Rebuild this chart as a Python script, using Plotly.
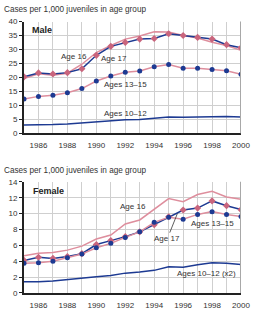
import plotly.graph_objects as go

years = list(range(1985, 2001))
tick_labels = ["" if y % 2 else str(y) for y in years]

# Male (cases per 1,000)
male_age16 = [19.6, 21.3, 20.8, 21.5, 24.7, 28.9, 31.4, 33.7, 34.8, 36.3, 36.2, 35.0, 34.1, 32.6, 31.4, 29.7]
male_age17 = [20.2, 21.6, 21.2, 21.7, 23.1, 27.9, 31.1, 32.5, 33.7, 33.9, 35.6, 35.0, 34.3, 33.7, 31.7, 30.6]
male_13_15 = [12.3, 13.2, 13.6, 14.5, 16.0, 18.7, 20.5, 21.8, 22.3, 23.8, 24.6, 23.3, 23.3, 22.8, 22.4, 21.1]
male_10_12 = [3.0, 3.0, 3.1, 3.3, 3.7, 4.1, 4.5, 4.8, 4.9, 5.3, 5.8, 5.7, 5.8, 5.9, 6.0, 5.8]

# Female (cases per 1,000)
female_age16 = [4.7, 5.0, 5.1, 5.4, 5.9, 6.8, 7.3, 8.7, 9.2, 10.6, 11.9, 11.5, 12.4, 12.8, 12.1, 11.8]
female_age17 = [4.1, 4.5, 4.35, 4.6, 4.95, 6.1, 6.6, 7.1, 7.7, 8.6, 9.6, 10.45, 10.7, 11.6, 11.0, 10.5]
female_13_15 = [3.75, 3.8, 4.0, 4.45, 4.9, 5.7, 6.25, 7.0, 7.7, 8.9, 9.55, 9.3, 9.9, 10.25, 9.9, 9.65]
female_10_12x2 = [1.4, 1.4, 1.5, 1.7, 1.9, 2.05, 2.2, 2.5, 2.65, 2.85, 3.3, 3.25, 3.55, 3.8, 3.75, 3.6]

BLUE = "#1d3a92"
PINK_LINE = "#de8e9d"
PINK_MK = "#c9657d"
GRID = "#cfcfcf"
FONT = "Liberation Sans, Arial, sans-serif"

fig = go.Figure()

def add_panel(xa, ya, a16, a17, a1315, a1012):
    fig.add_trace(go.Scatter(x=years, y=a16, mode="lines", line=dict(color=PINK_LINE, width=1.5),
                             xaxis=xa, yaxis=ya, showlegend=False))
    fig.add_trace(go.Scatter(x=years, y=a17, mode="lines+markers", line=dict(color=BLUE, width=1.5),
                             marker=dict(symbol="diamond", size=5.5, color=PINK_MK),
                             xaxis=xa, yaxis=ya, showlegend=False))
    fig.add_trace(go.Scatter(x=years, y=a1315, mode="lines+markers", line=dict(color=PINK_LINE, width=1.5),
                             marker=dict(symbol="circle", size=5, color=BLUE),
                             xaxis=xa, yaxis=ya, showlegend=False))
    fig.add_trace(go.Scatter(x=years, y=a1012, mode="lines", line=dict(color=BLUE, width=1.5),
                             xaxis=xa, yaxis=ya, showlegend=False))

add_panel("x", "y", male_age16, male_age17, male_13_15, male_10_12)
add_panel("x2", "y2", female_age16, female_age17, female_13_15, female_10_12x2)

xcommon = dict(range=[1985, 2000], tickvals=years, ticktext=tick_labels, showgrid=True,
               gridcolor=GRID, gridwidth=1, showline=True, linecolor="#222222", linewidth=2,
               ticks="", ticklabelstandoff=3,
               tickfont=dict(size=8, color="#333333", family=FONT), zeroline=False)
ycommon = dict(showgrid=True, gridcolor=GRID, gridwidth=1, showline=True, linecolor="#222222",
               linewidth=2, ticks="outside", ticklen=3, tickcolor="#222222",
               tickfont=dict(size=8, color="#333333", family=FONT), zeroline=False)

fig.update_layout(
    width=262, height=321,
    margin=dict(l=24, r=21, t=0, b=0),
    paper_bgcolor="white", plot_bgcolor="white",
    font=dict(family=FONT, size=8, color="#333333"),
    xaxis=dict(domain=[0, 1], anchor="y", **xcommon),
    yaxis=dict(domain=[0.5857, 0.9439], range=[0, 40], dtick=5, anchor="x", **ycommon),
    xaxis2=dict(domain=[0, 1], anchor="y2", **xcommon),
    yaxis2=dict(domain=[0.0738, 0.4299], range=[0, 14], dtick=2, anchor="x2", **ycommon),
)

# right frame edge
for ya in ["y", "y2"]:
    fig.add_shape(type="line", xref="x" if ya == "y" else "x2", yref=f"{ya} domain",
                  x0=2000, x1=2000, y0=0, y1=1, line=dict(color="#a8a8a8", width=2))

ann = []
def note(text, x, y, xr, yr, **kw):
    d = dict(text=text, x=x, y=y, xref=xr, yref=yr, showarrow=False,
             font=dict(size=8, color="#333333", family=FONT))
    d.update(kw)
    ann.append(d)

title_x = (3 - 24) / 217
note("Cases per 1,000 juveniles in age group", title_x, 1.0, "paper", "paper", xanchor="left",
     yanchor="top", borderpad=0, font=dict(size=8.2, color="#333333", family=FONT))
note("Cases per 1,000 juveniles in age group", title_x, 1 - 165.5 / 321, "paper", "paper", xanchor="left",
     yanchor="top", borderpad=0, font=dict(size=8.2, color="#333333", family=FONT))
note("<b>Male</b>", 1985.4, 36.9, "x", "y", xanchor="left", font=dict(size=9, color="#222222", family=FONT))
note("<b>Female</b>", 1985.5, 12.9, "x2", "y2", xanchor="left", font=dict(size=9, color="#222222", family=FONT))
note("Age 16", 1988.45, 27.4, "x", "y")
note("Age 17", 1991.2, 26.8, "x", "y")
note("Ages 13\u201315", 1992.0, 17.4, "x", "y")
note("Ages 10\u201312", 1992.0, 7.0, "x", "y")
note("Age 16", 1992.5, 10.9, "x2", "y2")
note("Age 17", 1995.6, 10.0, "x2", "y2", showarrow=True, arrowhead=0, arrowwidth=0.8,
     arrowcolor="#333333", ax=-10, ay=25)
note("Ages 13\u201315", 1998.0, 8.7, "x2", "y2")
note("Ages 10\u201312 (x2)", 1997.6, 2.5, "x2", "y2")
fig.update_layout(annotations=ann)

fig.write_html("out.html")
